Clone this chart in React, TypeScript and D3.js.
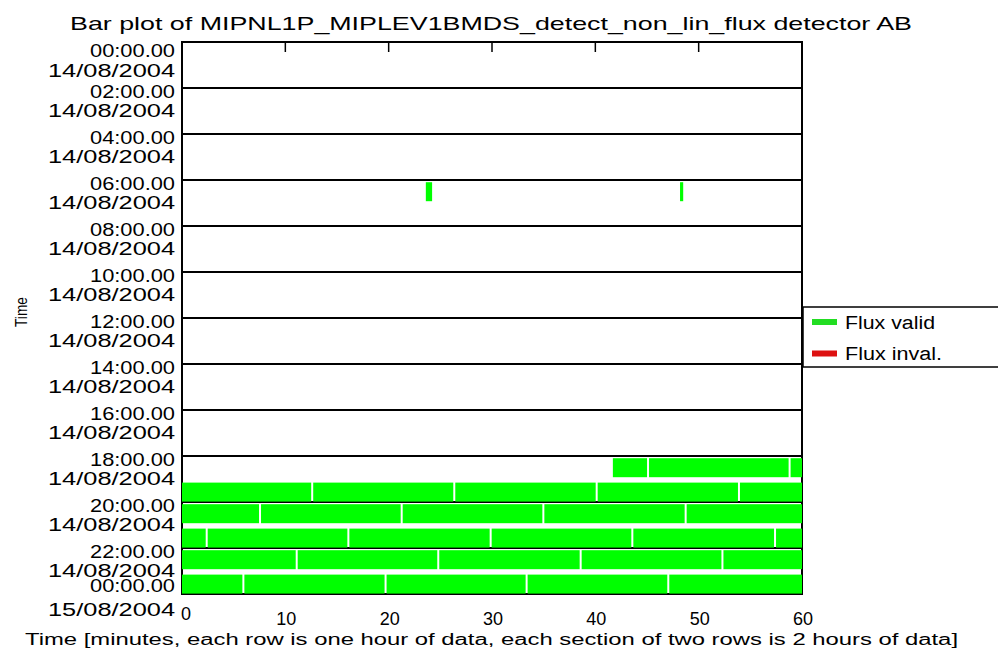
import React from "react";
import * as d3 from "d3";

// Minutes since 00:00 14/08/2004
const validSegStart = [383.5, 408.1, 1121.6, 1125.1, 1138.8, 1152.6, 1166.35, 1180.13, 1193.9, 1207.55, 1221.26, 1234.97, 1248.74, 1262.39, 1276.1, 1289.87, 1303.58, 1317.39, 1331.1, 1344.8, 1358.58, 1372.3, 1385.94, 1399.7, 1413.35, 1427.06];
const validSegEnd = [384.3, 408.6, 1125.1, 1138.8, 1152.6, 1166.35, 1180.13, 1193.9, 1207.55, 1221.26, 1234.97, 1248.74, 1262.39, 1276.1, 1289.87, 1303.58, 1317.39, 1331.1, 1344.8, 1358.58, 1372.3, 1385.94, 1399.7, 1413.35, 1427.06, 1440];
const invalidSegStart: number[] = [];
const invalidSegEnd: number[] = [];

const yTickTimes = ["00:00.00", "02:00.00", "04:00.00", "06:00.00", "08:00.00", "10:00.00", "12:00.00", "14:00.00", "16:00.00", "18:00.00", "20:00.00", "22:00.00", "00:00.00"];
const yTickDates = ["14/08/2004", "14/08/2004", "14/08/2004", "14/08/2004", "14/08/2004", "14/08/2004", "14/08/2004", "14/08/2004", "14/08/2004", "14/08/2004", "14/08/2004", "14/08/2004", "15/08/2004"];
const xTicks = [0, 10, 20, 30, 40, 50, 60];
const legendLabels = ["Flux valid", "Flux inval."];

const TITLE = "Bar plot of MIPNL1P_MIPLEV1BMDS_detect_non_lin_flux detector AB";
const XTITLE = "Time [minutes, each row is one hour of data, each section of two rows is 2 hours of data]";

const W = 998, H = 659;
const L = 182, R = 802, T = 42, B = 594;
const FONT = "'Liberation Sans', Arial, sans-serif";
const GREEN = "#00ff00";
const RED = "#e00000";

type Piece = { hour: number; a: number; b: number; gapL: boolean; gapR: boolean };

function splitSegments(starts: number[], ends: number[]): Piece[] {
  const out: Piece[] = [];
  starts.forEach((s, i) => {
    const e = ends[i];
    let h = Math.floor(s / 60);
    while (h * 60 < e) {
      const a = Math.max(s, h * 60);
      const b = Math.min(e, (h + 1) * 60);
      if (b > a) out.push({ hour: h, a: a - h * 60, b: b - h * 60, gapL: a === s, gapR: b === e });
      h++;
    }
  });
  return out;
}

export default function App() {
  const x = d3.scaleLinear().domain([0, 60]).range([L, R]);
  const y = d3.scaleLinear().domain([0, 24]).range([T, B]);
  const rowH = y(1) - y(0);

  const valid = splitSegments(validSegStart, validSegEnd);
  const invalid = splitSegments(invalidSegStart, invalidSegEnd);

  const pieceRect = (p: Piece, color: string, k: string) => {
    const x0 = x(p.a) + (p.gapL && p.a > 0 ? 1 : 0);
    const x1 = x(p.b) - (p.gapR && p.b < 60 ? 1 : 0);
    const off = p.hour % 2 === 0 ? 2.2 : 3.6;
    return <rect key={k} x={x0} y={y(p.hour) + off} width={Math.max(x1 - x0, 1)} height={rowH - 4} fill={color} />;
  };

  const n = yTickTimes.length;
  const labelOff = (i: number): [number, number] => {
    if (i === 0) return [8, 28];
    if (i === n - 1) return [-9, 15];
    return [3, 22];
  };

  return (
    <svg width={W} height={H} style={{ position: "absolute", left: 0, top: 0, background: "#fff" }} fontFamily={FONT}>
      <rect x={0} y={0} width={W} height={H} fill="#fff" />
      {/* title */}
      <text x={491} y={30} fontSize={19} textAnchor="middle" textLength={842} lengthAdjust="spacingAndGlyphs" fill="#000">{TITLE}</text>

      {/* frame */}
      <rect x={L} y={T} width={R - L} height={B - T} fill="none" stroke="#000" strokeWidth={2} />
      {/* section lines every 2 hours */}
      {d3.range(2, 24, 2).map((h) => (
        <line key={"s" + h} x1={L} x2={R} y1={y(h)} y2={y(h)} stroke="#000" strokeWidth={2} />
      ))}
      {/* top & bottom ticks */}
      {xTicks.slice(1, -1).map((t) => (
        <g key={"t" + t}>
          <line x1={x(t)} x2={x(t)} y1={T} y2={T + 10} stroke="#000" strokeWidth={1.5} />
          <line x1={x(t)} x2={x(t)} y1={B} y2={B - 10} stroke="#000" strokeWidth={1.5} />
        </g>
      ))}

      {/* bars */}
      {valid.map((p, i) => pieceRect(p, GREEN, "v" + i))}
      {invalid.map((p, i) => pieceRect(p, RED, "r" + i))}

      {/* y tick labels */}
      {yTickTimes.map((lab, i) => {
        const ty = y(i * 2);
        const [o1, o2] = labelOff(i);
        return (
          <g key={"y" + i} fontSize={19} fill="#000" textAnchor="end">
            <text x={175} y={ty + o1 + 7} textLength={85} lengthAdjust="spacingAndGlyphs">{lab}</text>
            <text x={175} y={ty + o2 + 7} textLength={127} lengthAdjust="spacingAndGlyphs">{yTickDates[i]}</text>
          </g>
        );
      })}

      {/* x tick labels */}
      {xTicks.map((t) => (
        <text key={"x" + t} x={x(t) + (t === 0 ? 4 : 1)} y={t === 0 ? 620 : 625} fontSize={18} textAnchor="middle" fill="#000">{t}</text>
      ))}

      {/* axis titles */}
      <text x={491.5} y={645} fontSize={16} textAnchor="middle" textLength={933} lengthAdjust="spacingAndGlyphs" fill="#000">{XTITLE}</text>
      <text transform="translate(27,312) rotate(-90)" fontSize={17} textAnchor="middle" textLength={30} lengthAdjust="spacingAndGlyphs" fill="#000">Time</text>

      {/* legend */}
      <rect x={803} y={307} width={210} height={60} fill="#fff" stroke="#000" strokeWidth={1.5} />
      {legendLabels.map((lab, i) => {
        const cy = 322 + i * 31.5;
        return (
          <g key={"l" + i}>
            <line x1={812} x2={837} y1={cy} y2={cy} stroke={i === 0 ? "#22dd22" : "#dd1111"} strokeWidth={6} />
            <text x={845} y={cy + 6.5} fontSize={18} textLength={i === 0 ? 90 : 97} lengthAdjust="spacingAndGlyphs" fill="#000">{lab}</text>
          </g>
        );
      })}
    </svg>
  );
}
